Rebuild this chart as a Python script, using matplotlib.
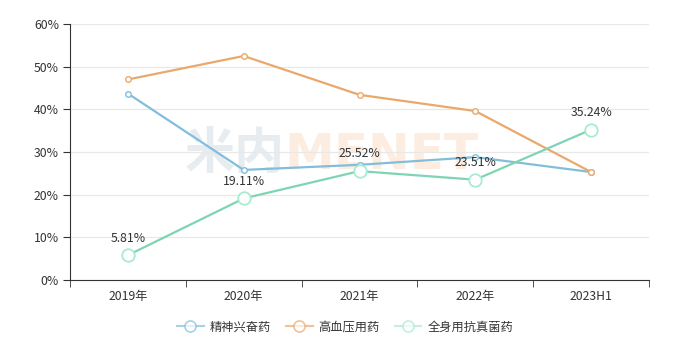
import matplotlib
matplotlib.use('Agg')
import matplotlib.pyplot as plt
from matplotlib.lines import Line2D

plt.rcParams['font.family'] = ['Noto Sans CJK SC', 'DejaVu Sans']

# 数据
categories = ['2019年', '2020年', '2021年', '2022年', '2023H1']
stimulant = [43.7, 25.8, 27.0, 28.8, 25.3]      # 精神兴奋药
hypertension = [47.0, 52.5, 43.4, 39.6, 25.3]   # 高血压用药
antifungal = [5.81, 19.11, 25.52, 23.51, 35.24]  # 全身用抗真菌药
series_names = ['精神兴奋药', '高血压用药', '全身用抗真菌药']

c_blue = '#82bedc'
c_orange = '#e9a96c'
c_green = '#7fd4b2'
c_green_mk = '#a6ecd0'

fig = plt.figure(figsize=(6.74, 3.51), dpi=100)
ax = fig.add_axes([70 / 674, 71 / 351, 579 / 674, 256 / 351])

x = list(range(len(categories)))

# watermark
ax.text(0.371, 0.49, '米内', transform=ax.transAxes, fontsize=36, fontweight='bold',
        color='#e6ecf0', ha='right', va='center', zorder=0)
ax.text(0.371, 0.49, 'MENET', transform=ax.transAxes, fontsize=36, fontweight='bold',
        color='#fcede0', ha='left', va='center', zorder=0, family='DejaVu Sans')

ax.plot(x, stimulant, color=c_blue, lw=1.6, marker='o', ms=4, mfc='white', mec=c_blue, mew=1, zorder=3)
ax.plot(x, hypertension, color=c_orange, lw=1.6, marker='o', ms=4, mfc='white', mec=c_orange, mew=1, zorder=3)
ax.plot(x, antifungal, color=c_green, lw=1.6, marker='o', ms=9, mfc='white', mec=c_green_mk, mew=1.3, zorder=4)

for xi, v in zip(x, antifungal):
    ax.text(xi, v + 2.5, f'{v:.2f}%', ha='center', va='bottom', fontsize=8.8, color='#333333', zorder=5)

ax.set_xlim(-0.5, len(categories) - 0.5)
ax.set_ylim(0, 60)
ax.set_yticks(range(0, 61, 10))
ax.set_yticklabels([f'{t}%' for t in range(0, 61, 10)])
ax.set_xticks(x)
ax.set_xticklabels(categories)
ax.set_xticks([i - 0.5 for i in range(len(categories) + 1)], minor=True)
ax.tick_params(axis='x', which='major', length=0, pad=7, labelsize=8.8, colors='#333333')
ax.tick_params(axis='x', which='minor', length=5, color='#333333')
ax.tick_params(axis='y', length=5, color='#333333', labelsize=8.8, labelcolor='#333333', pad=3)

ax.grid(axis='y', color='#e8e8e8', lw=0.9, zorder=0)
ax.set_axisbelow(True)
for s in ['top', 'right']:
    ax.spines[s].set_visible(False)
ax.spines['left'].set_color('#333333')
ax.spines['bottom'].set_color('#333333')

handles = [Line2D([0], [0], color=c, lw=1.5, marker='o', ms=8, mfc='white', mec=c, mew=1.2, alpha=0.7)
           for c in [c_blue, c_orange, c_green_mk]]
fig.legend(handles, series_names, loc='center', bbox_to_anchor=(345 / 674, 1 - 327 / 351), ncol=3,
           frameon=False, fontsize=8.8, handlelength=2.2, handletextpad=0.5, columnspacing=1.2,
           labelcolor='#333333')

fig.savefig('out.png', dpi=100)
